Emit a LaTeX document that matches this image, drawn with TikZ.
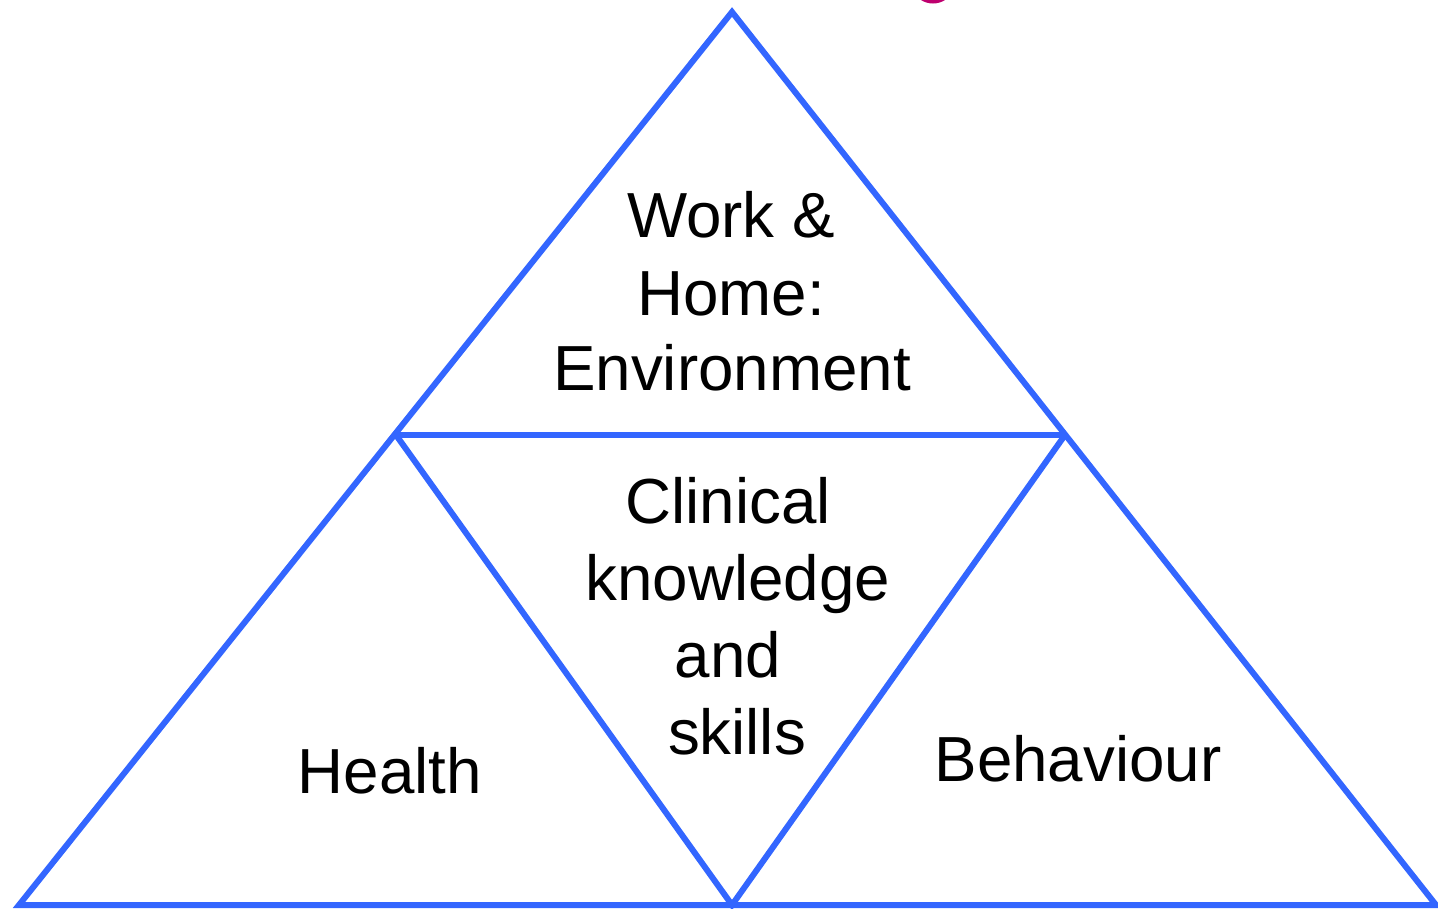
\documentclass[tikz,border=0pt]{standalone}
\usepackage{fontspec}
\setmainfont{Liberation Sans}
\definecolor{triblue}{RGB}{51,102,255}
\definecolor{pinkmark}{RGB}{190,0,110}
\begin{document}
\begin{tikzpicture}[x=1pt,y=-1pt,
  edge/.style={draw=triblue,line width=6pt,line join=miter},
  lbl/.style={font=\fontsize{63.7}{77}\selectfont,anchor=base,inner sep=0pt}]
\useasboundingbox (0,0) rectangle (1438,908);
\coordinate (A) at (732,12);
\coordinate (L) at (19,905);
\coordinate (R) at (1436,905);
\coordinate (ML) at (396,435);
\coordinate (MR) at (1065,435);
\coordinate (B) at (732,905);
\draw[edge] (A) -- (L) -- (R) -- cycle;
\draw[edge] (ML) -- (MR);
\draw[edge] (ML) -- (B) -- (MR);
% magenta sliver at top edge
\draw[pinkmark,line width=5pt] (933,-19) ++(55:20) arc (55:125:20);
% labels
\node[lbl] (w1) at (731,237) {Work \&};
\node[lbl] (w2) at (731,315) {Home:};
\node[lbl] (w3) at (732,390) {Environment};
\node[lbl] (c1) at (728,523) {Clinical};
\node[lbl] (c2) at (738,600) {knowledge};
\node[lbl] (c3) at (728,677) {and};
\node[lbl] (c4) at (737,754) {skills};
\node[lbl] (h) at (390,793) {Health};
\node[lbl] (b) at (1078,781) {Behaviour};
\end{tikzpicture}
\end{document}
